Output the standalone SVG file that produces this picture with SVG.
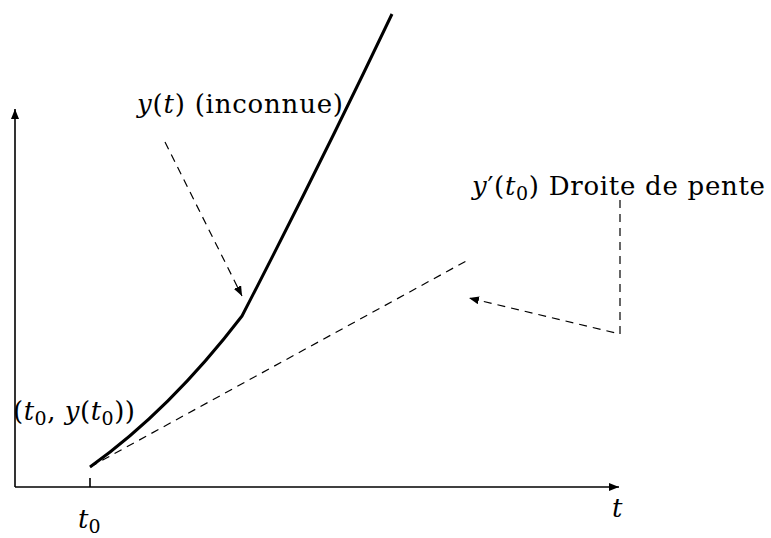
<svg xmlns="http://www.w3.org/2000/svg" width="771" height="538" viewBox="0 0 771 538">
<defs>
<style>
.lbl{font-family:"DejaVu Serif","Liberation Serif",serif;font-size:26px;fill:#000}
.it{font-style:italic}
.sub{font-size:19px}
.axis{stroke:#000;stroke-width:1.6;fill:none}
.curve{stroke:#000;stroke-width:3;fill:none;stroke-linejoin:round}
.dash{stroke:#000;stroke-width:1.2;fill:none;stroke-dasharray:8 6}
</style>
<marker id="ah" viewBox="0 0 10 8" refX="10" refY="4" markerWidth="10" markerHeight="8" markerUnits="userSpaceOnUse" orient="auto">
<path d="M0,0 L10,4 L0,8 Z" fill="#000"/>
</marker>
<marker id="ahs" viewBox="0 0 10 8" refX="10" refY="4" markerWidth="10" markerHeight="8" markerUnits="userSpaceOnUse" orient="auto">
<path d="M0,0 L10,4 L0,8 Z" fill="#000"/>
</marker>
</defs>
<rect width="771" height="538" fill="#fff"/>
<g id="axes">
<line class="axis" x1="15" y1="487" x2="15" y2="109" marker-end="url(#ah)"/>
<line class="axis" x1="15" y1="487" x2="619" y2="487" marker-end="url(#ah)"/>
<line class="axis" x1="90" y1="478" x2="90" y2="487"/>
</g>
<g id="curve">
<path class="curve" d="M90,467 Q170,410 242,316 Q320,165 392,14"/>
</g>
<g id="connectors">
<line class="dash" x1="90" y1="467" x2="468" y2="260"/>
<line class="dash" x1="165" y1="142" x2="242" y2="296" marker-end="url(#ahs)"/>
<polyline class="dash" points="620,200 620,334 469,298" marker-end="url(#ahs)"/>
</g>
<g id="label-y">
<text class="lbl" x="137" y="113" textLength="206" lengthAdjust="spacing"><tspan class="it">y</tspan>(<tspan class="it">t</tspan>) (inconnue)</text>
</g>
<g id="label-slope">
<text class="lbl" x="472" y="195" textLength="293" lengthAdjust="spacing"><tspan class="it">y</tspan>′(<tspan class="it">t</tspan><tspan class="sub" dy="5">0</tspan><tspan dy="-5">) Droite de pente</tspan></text>
</g>
<g id="label-point">
<text class="lbl" x="13" y="420" textLength="122" lengthAdjust="spacing">(<tspan class="it">t</tspan><tspan class="sub" dy="5">0</tspan><tspan dy="-5">, </tspan><tspan class="it">y</tspan>(<tspan class="it">t</tspan><tspan class="sub" dy="5">0</tspan><tspan dy="-5">))</tspan></text>
</g>
<g id="label-t0">
<text class="lbl" x="78" y="528"><tspan class="it">t</tspan><tspan class="sub" dy="5">0</tspan></text>
</g>
<g id="label-t">
<text class="lbl it" x="612" y="517">t</text>
</g>
</svg>
